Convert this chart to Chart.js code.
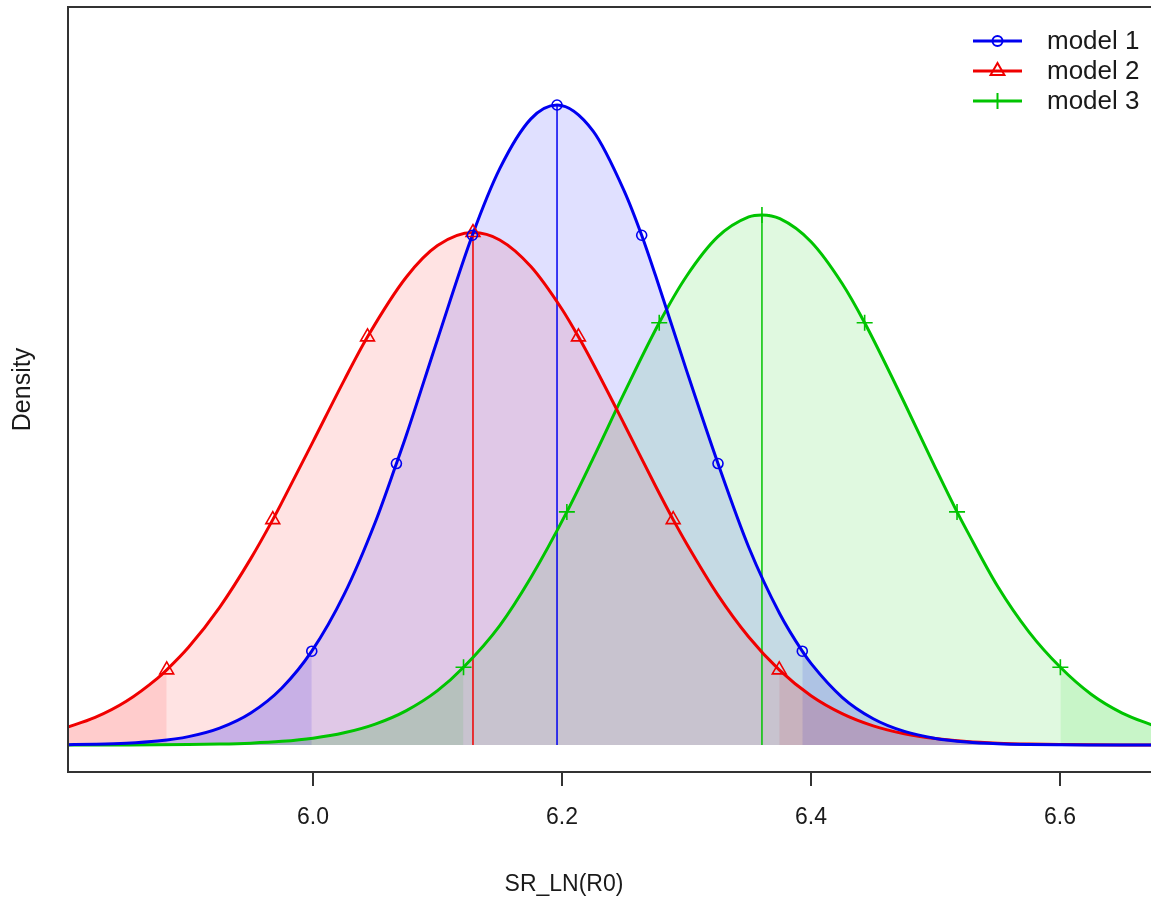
<!DOCTYPE html>
<html>
<head>
<meta charset="utf-8">
<script src="https://cdn.jsdelivr.net/npm/chart.js@4.4.1/dist/chart.umd.min.js"></script>
<style>
  body { margin: 0; background: #fff; }
</style>
</head>
<body>
<canvas id="densityChart" width="1151" height="905"></canvas>
<script>
// density curves (x grid shared by all three models)
const xGrid = [5.800, 5.825, 5.850, 5.875, 5.900, 5.925, 5.950, 5.975, 6.000, 6.025, 6.050, 6.075,
  6.100, 6.125, 6.150, 6.175, 6.200, 6.225, 6.250, 6.275, 6.300, 6.325, 6.350, 6.375,
  6.400, 6.425, 6.450, 6.475, 6.500, 6.525, 6.550, 6.575, 6.600, 6.625, 6.650, 6.675];

const model1Density = [0.0017, 0.0044, 0.0106, 0.0242, 0.0519, 0.1047, 0.1985, 0.3537, 0.593, 0.934, 1.382, 1.923,
  2.516, 3.093, 3.575, 3.884, 3.967, 3.808, 3.436, 2.915, 2.324, 1.742, 1.227, 0.813,
  0.506, 0.296, 0.163, 0.0842, 0.0409, 0.0187, 0.0080, 0.0032, 0.0012, 0.0004, 0.0001, 0.0000];

const model2Density = [0.1034, 0.1708, 0.2711, 0.4134, 0.606, 0.854, 1.156, 1.505, 1.882, 2.262, 2.614, 2.903,
  3.098, 3.178, 3.133, 2.968, 2.703, 2.365, 1.990, 1.608, 1.250, 0.933, 0.670, 0.462,
  0.306, 0.195, 0.119, 0.0703, 0.0398, 0.0216, 0.0113, 0.0057, 0.0027, 0.0013, 0.0006, 0.0002];

const model3Density = [0.0001, 0.0002, 0.0005, 0.0012, 0.0027, 0.0057, 0.0116, 0.0226, 0.0422, 0.0756, 0.1297, 0.2135,
  0.337, 0.510, 0.741, 1.039, 1.388, 1.778, 2.184, 2.573, 2.908, 3.152, 3.276, 3.265,
  3.122, 2.863, 2.517, 2.123, 1.718, 1.333, 0.983, 0.702, 0.480, 0.315, 0.198, 0.120];

// marker positions: 2.5%, 10%, 25%, 50%, 75%, 90%, 97.5% quantiles
const model1QuantX = [5.999, 6.067, 6.128, 6.196, 6.264, 6.3253, 6.393];
const model1QuantY = [0.582, 1.746, 3.162, 3.970, 3.162, 1.746, 0.582];
const model2QuantX = [5.8825, 5.9677, 6.0438, 6.1285, 6.2132, 6.2893, 6.3745];
const model2QuantY = [0.466, 1.398, 2.532, 3.179, 2.532, 1.398, 0.466];
const model3QuantX = [6.1209, 6.2039, 6.2781, 6.3606, 6.4431, 6.5173, 6.6003];
const model3QuantY = [0.482, 1.446, 2.619, 3.288, 2.619, 1.446, 0.482];

const xTicks = [6.0, 6.2, 6.4, 6.6];
const modelNames = ["model 1", "model 2", "model 3"];

const fontFamily = "'Liberation Sans', Arial, Helvetica, sans-serif";
const textColor = "#1a1a1a";

const models = [
  { name: modelNames[0], density: model1Density, qx: model1QuantX, qy: model1QuantY,
    color: "#0000f0", fill: "rgba(0,0,255,0.12)", tail: "rgba(0,0,255,0.12)", marker: "circle", radius: 5 },
  { name: modelNames[1], density: model2Density, qx: model2QuantX, qy: model2QuantY,
    color: "#f00000", fill: "rgba(255,0,0,0.11)", tail: "rgba(255,0,0,0.10)", marker: "triangle", radius: 8 },
  { name: modelNames[2], density: model3Density, qx: model3QuantX, qy: model3QuantY,
    color: "#00c400", fill: "rgba(0,205,0,0.12)", tail: "rgba(0,205,0,0.11)", marker: "cross", radius: 8 }
];

// grid points plus the quantile points, dropping grid points too close to a marker
function curvePoints(m) {
  const pts = [];
  xGrid.forEach(function (x, i) {
    const nearMarker = m.qx.some(q => Math.abs(q - x) < 0.007);
    if (!nearMarker) pts.push({ x: x, y: m.density[i] });
  });
  m.qx.forEach((x, i) => pts.push({ x: x, y: m.qy[i] }));
  pts.sort((a, b) => a.x - b.x);
  return pts;
}

const datasets = [];

models.forEach(function (m) {
  const pts = curvePoints(m);
  const lowQ = m.qx[0];
  const highQ = m.qx[m.qx.length - 1];

  datasets.push({
    label: m.name,
    data: pts,
    borderColor: m.color,
    borderWidth: 3,
    backgroundColor: m.fill,
    fill: "origin",
    pointRadius: 0,
    cubicInterpolationMode: "monotone",
    order: 1
  });

  // darker tails outside the 95% interval
  [pts.filter(p => p.x <= lowQ), pts.filter(p => p.x >= highQ)].forEach(function (tailPts) {
    datasets.push({
      data: tailPts,
      borderColor: "rgba(0,0,0,0)",
      borderWidth: 0,
      backgroundColor: m.tail,
      fill: "origin",
      pointRadius: 0,
      cubicInterpolationMode: "monotone",
      order: 6
    });
  });

  // median line
  datasets.push({
    data: [{ x: m.qx[3], y: 0 }, { x: m.qx[3], y: m.qy[3] }],
    borderColor: m.color,
    borderWidth: 1.5,
    pointRadius: 0,
    fill: false,
    order: 3
  });

  datasets.push({
    data: m.qx.map((x, i) => ({ x: x, y: m.qy[i] })),
    showLine: false,
    pointStyle: m.marker,
    pointRadius: m.radius,
    pointBorderColor: m.color,
    pointBackgroundColor: "rgba(0,0,0,0)",
    pointBorderWidth: 1.6,
    order: 0
  });
});

const framePlugin = {
  id: "frame",
  afterDraw(chart) {
    const { ctx, chartArea } = chart;
    ctx.save();
    ctx.strokeStyle = "#333";
    ctx.lineWidth = 2;
    ctx.beginPath();
    ctx.moveTo(chartArea.right + 2, chartArea.top);
    ctx.lineTo(chartArea.left, chartArea.top);
    ctx.lineTo(chartArea.left, chartArea.bottom);
    ctx.lineTo(chartArea.right + 2, chartArea.bottom);
    ctx.stroke();

    // x title sits left of the (cropped) plot centre in the original
    ctx.font = "23px " + fontFamily;
    ctx.fillStyle = textColor;
    ctx.textAlign = "center";
    ctx.textBaseline = "middle";
    ctx.fillText("SR_LN(R0)", 564, 885);
    ctx.restore();
  }
};

function drawMarker(ctx, style, x, y, r) {
  ctx.beginPath();
  if (style === "circle") {
    ctx.arc(x, y, r, 0, Math.PI * 2);
  } else if (style === "triangle") {
    ctx.moveTo(x, y - r);
    ctx.lineTo(x + r * 0.866, y + r * 0.5);
    ctx.lineTo(x - r * 0.866, y + r * 0.5);
    ctx.closePath();
  } else {
    ctx.moveTo(x - r, y);
    ctx.lineTo(x + r, y);
    ctx.moveTo(x, y - r);
    ctx.lineTo(x, y + r);
  }
  ctx.stroke();
}

const legendPlugin = {
  id: "modelLegend",
  afterDraw(chart) {
    const ctx = chart.ctx;
    ctx.save();
    ctx.font = "26px " + fontFamily;
    ctx.textBaseline = "middle";
    ctx.fillStyle = textColor;
    models.forEach(function (m, i) {
      const y = 41 + i * 30;
      ctx.strokeStyle = m.color;
      ctx.lineWidth = 3;
      ctx.beginPath();
      ctx.moveTo(973, y);
      ctx.lineTo(1022, y);
      ctx.stroke();
      ctx.lineWidth = 2;
      drawMarker(ctx, m.marker, 997.5, y, m.radius);
      ctx.fillText(m.name, 1047, y + 1);
    });
    ctx.restore();
  }
};

const densityChart = new Chart(document.getElementById("densityChart"), {
  type: "line",
  data: { datasets: datasets },
  options: {
    responsive: false,
    animation: false,
    layout: { autoPadding: false, padding: { top: 7, right: 0, bottom: 0, left: 0 } },
    plugins: {
      legend: { display: false },
      tooltip: { enabled: false },
      filler: { drawTime: "beforeDatasetsDraw" }
    },
    scales: {
      x: {
        type: "linear",
        min: 5.8032,
        max: 6.6731,
        afterBuildTicks: (axis) => { axis.ticks = xTicks.map(v => ({ value: v })); },
        afterFit: (axis) => {
          axis.height = 133;
          axis.paddingLeft = 0;
          axis.paddingRight = 0;
        },
        grid: { display: true, drawOnChartArea: false, drawTicks: true, tickLength: 14, color: "#333", lineWidth: 2 },
        border: { display: false },
        ticks: {
          color: textColor,
          font: { size: 23, family: fontFamily },
          padding: 18,
          maxRotation: 0,
          autoSkip: false,
          callback: (v) => Number(v).toFixed(1)
        },
        title: { display: false }
      },
      y: {
        min: -0.1675,
        max: 4.578,
        afterFit: (axis) => {
          axis.width = 68;
          axis.paddingTop = 0;
          axis.paddingBottom = 0;
        },
        grid: { display: false },
        border: { display: false },
        ticks: { display: false },
        title: {
          display: true,
          text: "Density",
          color: textColor,
          font: { size: 25, family: fontFamily },
          padding: { top: 8, bottom: 0 }
        }
      }
    }
  },
  plugins: [framePlugin, legendPlugin]
});
</script>
</body>
</html>
